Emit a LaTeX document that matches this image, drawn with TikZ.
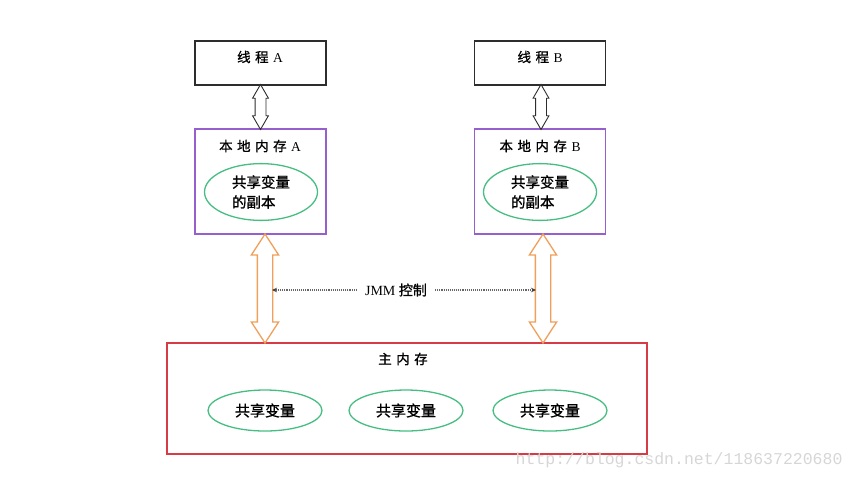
\documentclass[tikz,border=0pt]{standalone}
\usepackage{fontspec}
\setmainfont{Liberation Serif}
\newfontfamily\cjk[FakeBold=1]{Noto Sans CJK SC}
\newfontfamily\wmfont{Liberation Mono}
\usetikzlibrary{positioning}
\usetikzlibrary{shapes.geometric}
\usetikzlibrary{shapes.arrows}
\usetikzlibrary{arrows.meta}
\usetikzlibrary{calc}

\definecolor{boxgray}{RGB}{45,45,45}
\definecolor{boxpurple}{RGB}{150,95,205}
\definecolor{boxred}{RGB}{215,60,70}
\definecolor{ellgreen}{RGB}{70,190,130}
\definecolor{arrorange}{RGB}{240,160,90}

\begin{document}
\begin{tikzpicture}[
    x=1pt,y=-1pt,
    thread/.style={rectangle,draw=boxgray,line width=1.2pt,minimum width=131,minimum height=44},
    localmem/.style={rectangle,draw=boxpurple,line width=1.3pt,minimum width=131,minimum height=105},
    mainmem/.style={rectangle,draw=boxred,line width=1.3pt,minimum width=480,minimum height=111},
    copyvar/.style={ellipse,draw=ellgreen,line width=1.3pt,minimum width=113,minimum height=51,align=left,font=\fontsize{14.5}{20}\cjk},
    sharedvar/.style={ellipse,draw=ellgreen,line width=1.3pt,minimum width=114,minimum height=41,font=\fontsize{15}{18}\cjk},
    title/.style={font=\fontsize{13.5}{16}\selectfont},
    warr/.style={double arrow,rotate=90,draw=boxgray,fill=white,line width=0.9pt,inner xsep=0,inner ysep=5,double arrow head extend=2.5,double arrow tip angle=60},
    oarr/.style={double arrow,rotate=90,draw=arrorange,fill=white,line width=1.3pt,inner xsep=0,inner ysep=7,double arrow head extend=6,double arrow tip angle=66},
    ctrl/.style={densely dotted,draw=black!60,line width=1.1pt,-{Stealth[length=5pt,width=4.5pt,black!75]}}
    ]
    \useasboundingbox (0,0) rectangle (858,480);

    % threads
    \node (tA) [thread] at (260.5,63) {};
    \node (tB) [thread] at (540,63) {};
    \node [title] at (260,57) {{\cjk 线\,\,程}\,\,A};
    \node [title] at (540,57) {{\cjk 线\,\,程}\,\,B};

    % local memories
    \node (lA) [localmem] at (260.5,181.5) {};
    \node (lB) [localmem] at (540,181.5) {};
    \node [title] at (260,146) {{\cjk 本\,\,地\,\,内\,\,存}\,\,A};
    \node [title] at (540,146) {{\cjk 本\,\,地\,\,内\,\,存}\,\,B};
    \node (cA) [copyvar] at (261,192) {共享变量\\的副本};
    \node (cB) [copyvar] at (540,192) {共享变量\\的副本};

    % main memory
    \node (mm) [mainmem] at (407,398.5) {};
    \node [title] at (403,359) {\cjk 主\,\,内\,\,存};
    \node (v1) [sharedvar] at (265,410.5) {共享变量};
    \node (v2) [sharedvar] at (406,410.5) {共享变量};
    \node (v3) [sharedvar] at (550,410.5) {共享变量};

    % arrows
    \node (wA) [warr,minimum height=45] at ($(tA.south)!.5!(lA.north)$) {};
    \node (wB) [warr,minimum height=45] at ($(tB.south)!.5!(lB.north)+(1,0)$) {};
    \node (oA) [oarr,minimum height=109] at ($(lA.south)!.5!(lA.south |- mm.north)+(4.5,0)$) {};
    \node (oB) [oarr,minimum height=109] at ($(lB.south)!.5!(lB.south |- mm.north)+(3,0)$) {};

    \node (jmm) [inner xsep=8pt,font=\fontsize{14}{16}\selectfont] at (396,290) {JMM {\cjk 控制}};
    \coordinate (jA) at (272,290);
    \coordinate (jB) at (536,290);
    \draw[ctrl] (jmm.west) -- (jA);
    \draw[ctrl] (jmm.east) -- (jB);

    \node (wm) [anchor=east,text=black!16,font=\fontsize{16.5}{18}\wmfont] at (846,460) {http://blog.csdn.net/118637220680};
\end{tikzpicture}
\end{document}
